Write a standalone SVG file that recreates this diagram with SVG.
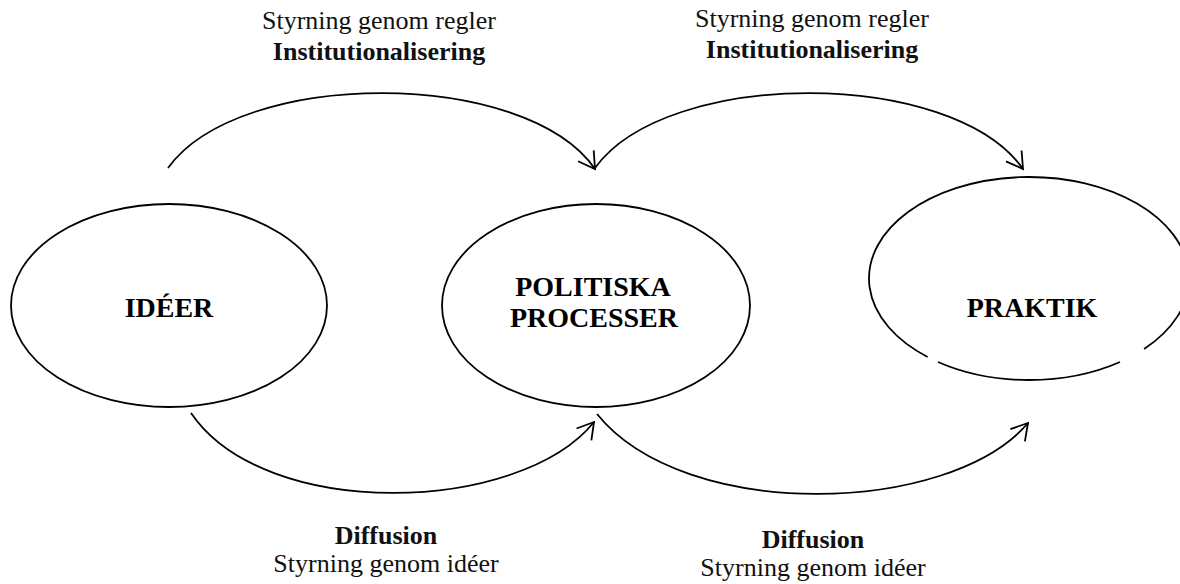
<svg xmlns="http://www.w3.org/2000/svg" width="1180" height="584" viewBox="0 0 1180 584">
<style>
.node{fill:none;stroke:#000;stroke-width:1.8}
.conn{fill:none;stroke:#000;stroke-width:1.8;marker-end:url(#arr)}
.nl{font-family:"Liberation Serif","Times New Roman",serif;font-weight:bold;font-size:28px;text-anchor:middle;fill:#000}
.el{font-family:"Liberation Serif","Times New Roman",serif;font-size:26px;text-anchor:middle;fill:#111}
.eb{font-weight:bold}
</style>
<defs>
<marker id="arr" markerUnits="userSpaceOnUse" markerWidth="24" markerHeight="24" viewBox="-20 -12 24 24" refX="0" refY="0" orient="auto" overflow="visible">
<path d="M-16,-9.5 L0,0 L-16,9.5" fill="none" stroke="#000" stroke-width="1.8"/>
</marker>
</defs>
<rect width="1180" height="584" fill="#fff"/>
<g id="node-ideer">
<ellipse class="node" cx="169" cy="305.5" rx="158" ry="101.5"/>
<text class="nl" x="169" y="317">IDÉER</text>
</g>
<g id="node-politiska">
<ellipse class="node" cx="596" cy="305.5" rx="154" ry="101.5"/>
<text class="nl" x="593" y="296">POLITISKA</text>
<text class="nl" x="594" y="327">PROCESSER</text>
</g>
<g id="node-praktik">
<path class="node" d="M938,362 A160,101.5 0 0,0 1120,362 M1144.1,349 A160,101.5 0 1,0 927.6,357"/>
<text class="nl" x="1032" y="317">PRAKTIK</text>
</g>
<g id="connectors">
<path class="conn" d="M168,168 C240,68 525,68 595,169"/>
<path class="conn" d="M595,168 C667,68 952,68 1023,169"/>
<path class="conn" d="M191,413 C265,522 520,514 594,422"/>
<path class="conn" d="M597,414 C685,523 950,515 1028,423"/>
</g>
<g id="labels">
<text class="el" x="379" y="29">Styrning genom regler</text>
<text class="el eb" x="379" y="60">Institutionalisering</text>
<text class="el" x="812" y="27">Styrning genom regler</text>
<text class="el eb" x="812" y="58">Institutionalisering</text>
<text class="el eb" x="386" y="544">Diffusion</text>
<text class="el" x="386" y="572">Styrning genom idéer</text>
<text class="el eb" x="813" y="548">Diffusion</text>
<text class="el" x="813" y="576">Styrning genom idéer</text>
</g>
</svg>
